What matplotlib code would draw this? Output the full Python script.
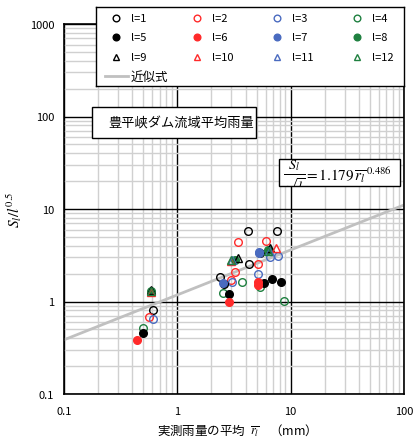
"""Houheikyo dam basin: S_l / l^0.5 against mean observed rainfall."""

import numpy as np
import matplotlib
matplotlib.use("Agg")
import matplotlib.pyplot as plt
from matplotlib.patches import Rectangle
from matplotlib.ticker import FixedLocator, FuncFormatter, LogLocator

plt.rcParams["font.family"] = ["Noto Sans CJK JP", "DejaVu Sans"]
plt.rcParams["mathtext.fontset"] = "stix"

W, H = 416, 439

# values, one pair of lists per lag l
X1 = [0.614, 2.38, 4.18, 7.5, 4.25, 5.4]
Y1 = [0.80, 1.85, 5.8, 5.8, 2.55, 3.35]
X2 = [0.56, 3.4, 6.0, 5.1, 3.2, 2.95]
Y2 = [0.68, 4.45, 4.5, 2.55, 2.1, 1.72]
X3 = [0.61, 3.05, 5.1, 5.3, 7.7, 6.6]
Y3 = [0.64, 1.62, 2.0, 3.35, 3.1, 3.05]
X4 = [0.50, 2.55, 3.75, 5.4, 8.7]
Y4 = [0.52, 1.25, 1.62, 1.45, 1.02]
X5 = [0.50, 2.6, 2.85, 5.8, 6.8, 8.2]
Y5 = [0.46, 1.55, 1.2, 1.6, 1.75, 1.62]
X6 = [0.44, 2.85, 5.2, 5.2]
Y6 = [0.38, 0.98, 1.62, 1.5]
X7 = [2.55, 5.3]
Y7 = [1.6, 3.4]
X8 = [0.58, 3.2, 6.3]
Y8 = [1.3, 2.8, 3.6]
X9 = [3.45, 6.6, 0.59]
Y9 = [2.95, 3.75, 1.33]
X10 = [3.0, 7.4, 0.58]
Y10 = [2.75, 3.75, 1.28]
X11 = [3.05, 6.4]
Y11 = [2.78, 3.5]
X12 = [2.95, 6.3, 0.58]
Y12 = [2.82, 3.55, 1.3]

FIT_A = 1.179
FIT_B = 0.486
FIT_X = [0.1, 100.0]

SERIES = [
    ("l=1", X1, Y1), ("l=2", X2, Y2), ("l=3", X3, Y3), ("l=4", X4, Y4),
    ("l=5", X5, Y5), ("l=6", X6, Y6), ("l=7", X7, Y7), ("l=8", X8, Y8),
    ("l=9", X9, Y9), ("l=10", X10, Y10), ("l=11", X11, Y11), ("l=12", X12, Y12),
]
COLORS = ["#000000", "#ff2a2a", "#4a6bc0", "#1f8040"]


def style(i):
    color = COLORS[i % 4]
    row = i // 4
    if row == 0:
        return dict(marker="o", mfc="none", mec=color)
    if row == 1:
        return dict(marker="o", mfc=color, mec=color)
    return dict(marker="^", mfc="none", mec=color)


def fx(px):
    return px / W


def fy(py):
    return 1 - py / H


fig = plt.figure(figsize=(W / 100, H / 100), dpi=100)
ax = fig.add_axes([fx(64), fy(395), fx(404) - fx(64), fy(25) - fy(395)])
ax.set_xscale("log")
ax.set_yscale("log")
ax.set_xlim(0.1, 100)
ax.set_ylim(0.1, 1000)

fit_x = np.array(FIT_X)
ax.plot(fit_x, FIT_A * fit_x ** FIT_B, color="#c0c0c0", lw=2, zorder=2)

for i, (lab, xs, ys) in enumerate(SERIES):
    ax.plot(xs, ys, ls="none", ms=5.5, mew=1.0, zorder=3, **style(i))

ax.xaxis.set_major_locator(FixedLocator([0.1, 1, 10, 100]))
ax.yaxis.set_major_locator(FixedLocator([0.1, 1, 10, 100, 1000]))
ax.xaxis.set_minor_locator(LogLocator(base=10, subs=np.arange(2, 10)))
ax.yaxis.set_minor_locator(LogLocator(base=10, subs=np.arange(2, 10)))
fmt = FuncFormatter(lambda v, _: f"{v:g}")
ax.xaxis.set_major_formatter(fmt)
ax.yaxis.set_major_formatter(fmt)
ax.xaxis.set_minor_formatter(FuncFormatter(lambda v, _: ""))
ax.yaxis.set_minor_formatter(FuncFormatter(lambda v, _: ""))
ax.grid(True, which="minor", color="#d0d0d0", lw=1.0, zorder=0)
ax.grid(True, which="major", color="black", lw=1.0, zorder=1)
ax.set_axisbelow(True)
ax.tick_params(which="both", length=0, labelsize=8)
ax.tick_params(axis="x", pad=9)
ax.tick_params(axis="y", pad=7)
for sp in ax.spines.values():
    sp.set_linewidth(1.2)

ax.set_ylabel(r"$S_l/l^{0.5}$", fontsize=11, labelpad=4)
ax.set_xlabel(r"実測雨量の平均  $\overline{r_l}$    （mm）", fontsize=9, labelpad=3)

# legend box drawn by hand so that the columns sit where they do in the source
lax = fig.add_axes([fx(96), fy(87), fx(404) - fx(96), fy(8) - fy(87)], zorder=5)
lax.set_xlim(96, 404)
lax.set_ylim(87, 8)
lax.set_xticks([])
lax.set_yticks([])
for sp in lax.spines.values():
    sp.set_linewidth(1.0)
col_x = [116, 197, 277, 357]
row_y = [19, 38, 58]
for i, (lab, xs, ys) in enumerate(SERIES):
    cx, cy = col_x[i % 4], row_y[i // 4]
    lax.plot([cx], [cy], ls="none", ms=4.8, mew=1.0, **style(i))
    lax.text(cx + 15, cy, lab, fontsize=8, va="center", ha="left")
lax.plot([105, 128], [77, 77], color="#c0c0c0", lw=2)
lax.text(131, 77, "近似式", fontsize=9, va="center", ha="left")

# title box
fig.add_artist(Rectangle((fx(92), fy(139)), fx(256) - fx(92), fy(108) - fy(139),
                         transform=fig.transFigure, fc="white", ec="black", lw=1.0,
                         zorder=5))
fig.text(fx(181), fy(124), "豊平峡ダム流域平均雨量", fontsize=9.5,
         ha="center", va="center", zorder=6)

# fitted equation box; the fraction runs past the lower edge and is cut there
eq_box = Rectangle((fx(279), fy(187)), fx(400) - fx(279), fy(160) - fy(187),
                   transform=fig.transFigure, fc="white", ec="black", lw=1.0,
                   zorder=5)
fig.add_artist(eq_box)
frac = fig.text(fx(283), fy(178), r"$\frac{S_l}{\sqrt{l}}$",
                fontsize=14.5, ha="left", va="center", zorder=6)
frac.set_clip_path(eq_box)
fig.text(fx(304), fy(175), r"$=1.179\,\overline{r_l}^{\,0.486}$",
         fontsize=11, ha="left", va="center", zorder=6)

fig.savefig("out.png", dpi=100)
